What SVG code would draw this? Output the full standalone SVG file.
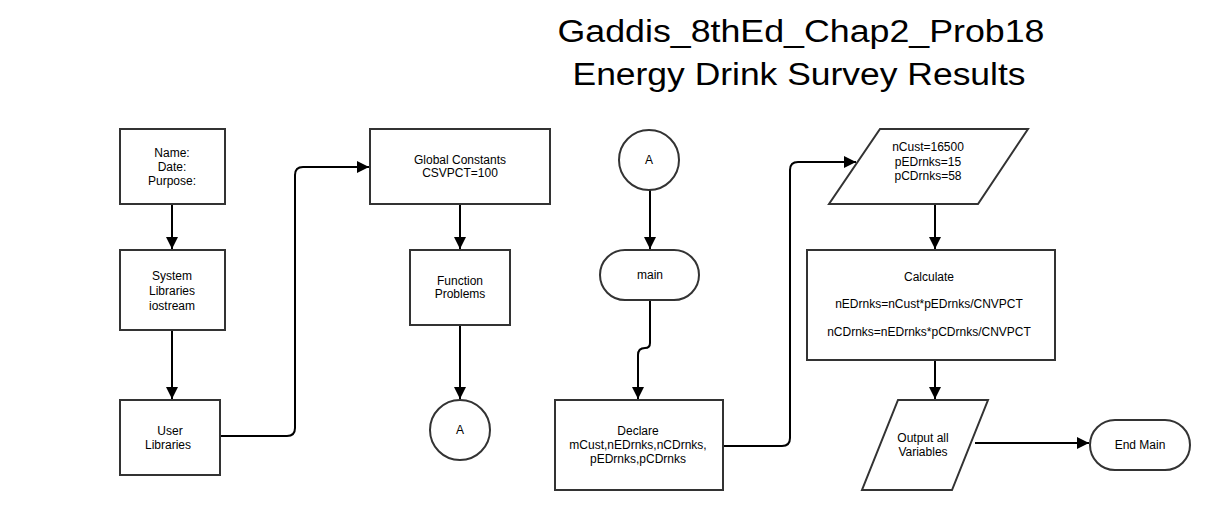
<svg xmlns="http://www.w3.org/2000/svg" width="1216" height="510" viewBox="0 0 1216 510">
<defs>
<marker id="ah" viewBox="0 0 12 12" refX="12" refY="6" markerWidth="12" markerHeight="12" markerUnits="userSpaceOnUse" orient="auto">
<path d="M0,0 L12,6 L0,12 Z" fill="#000"/>
</marker>
<style>
.s{fill:#fff;stroke:#333;stroke-width:2}
.t{font-family:"Liberation Sans",Arial,sans-serif;font-size:12px;fill:#000;text-anchor:middle}
.h{font-family:"Liberation Sans",Arial,sans-serif;font-size:31px;fill:#000;text-anchor:middle}
.c{fill:none;stroke:#000;stroke-width:2;marker-end:url(#ah)}
</style>
</defs>
<rect width="1216" height="510" fill="#fff"/>
<g id="title">
<text class="h" x="801" y="42" textLength="487" lengthAdjust="spacingAndGlyphs">Gaddis_8thEd_Chap2_Prob18</text>
<text class="h" x="799" y="85" textLength="453" lengthAdjust="spacingAndGlyphs">Energy Drink Survey Results</text>
</g>
<g id="connectors">
<path class="c" d="M172,204 V249"/>
<path class="c" d="M172,330 V399"/>
<path class="c" d="M220,436 H287 Q295,436 295,428 V175 Q295,167 303,167 H369"/>
<path class="c" d="M460,204 V249"/>
<path class="c" d="M460,325 V399"/>
<path class="c" d="M650,190 V249"/>
<path class="c" d="M650,300 V343 Q650,348 645,348 Q638,348 638,355 V399"/>
<path class="c" d="M723,446 H782 Q790,446 790,438 V170 Q790,162 798,162 H856"/>
<path class="c" d="M935,204 V249"/>
<path class="c" d="M935,360 V399"/>
<path class="c" d="M975,443 H1089"/>
</g>
<g id="n_header">
<rect class="s" x="120" y="129" width="105" height="75"/>
<text class="t" x="172" y="157">Name:</text>
<text class="t" x="172" y="171">Date:</text>
<text class="t" x="172" y="185">Purpose:</text>
</g>
<g id="n_syslib">
<rect class="s" x="120" y="250" width="105" height="80"/>
<text class="t" x="172" y="280">System</text>
<text class="t" x="172" y="295">Libraries</text>
<text class="t" x="172" y="310">iostream</text>
</g>
<g id="n_userlib">
<rect class="s" x="120" y="400" width="100" height="75"/>
<text class="t" x="170" y="435">User</text>
<text class="t" x="168" y="449">Libraries</text>
</g>
<g id="n_global">
<rect class="s" x="370" y="129" width="180" height="75"/>
<text class="t" x="460" y="164">Global Constants</text>
<text class="t" x="460" y="177">CSVPCT=100</text>
</g>
<g id="n_func">
<rect class="s" x="410" y="250" width="100" height="75"/>
<text class="t" x="460" y="285">Function</text>
<text class="t" x="460" y="298">Problems</text>
</g>
<g id="n_a1">
<circle class="s" cx="460" cy="430" r="30"/>
<text class="t" x="460" y="434">A</text>
</g>
<g id="n_a2">
<circle class="s" cx="649" cy="160" r="30"/>
<text class="t" x="649" y="164">A</text>
</g>
<g id="n_main">
<rect class="s" x="600" y="250" width="99" height="50" rx="25" ry="25"/>
<text class="t" x="650" y="279">main</text>
</g>
<g id="n_declare">
<rect class="s" x="555" y="400" width="168" height="90"/>
<text class="t" x="638" y="435">Declare</text>
<text class="t" x="638" y="449">mCust,nEDrnks,nCDrnks,</text>
<text class="t" x="638" y="463">pEDrnks,pCDrnks</text>
</g>
<g id="n_input">
<polygon class="s" points="880,129 1028,129 978,204 829,204"/>
<text class="t" x="928" y="151">nCust=16500</text>
<text class="t" x="928" y="166">pEDrnks=15</text>
<text class="t" x="928" y="180">pCDrnks=58</text>
</g>
<g id="n_calc">
<rect class="s" x="807" y="250" width="248" height="110"/>
<text class="t" x="929" y="281">Calculate</text>
<text class="t" x="929" y="308">nEDrnks=nCust*pEDrnks/CNVPCT</text>
<text class="t" x="929" y="336">nCDrnks=nEDrnks*pCDrnks/CNVPCT</text>
</g>
<g id="n_output">
<polygon class="s" points="898,400 988,400 952,490 862,490"/>
<text class="t" x="923" y="442">Output all</text>
<text class="t" x="923" y="456">Variables</text>
</g>
<g id="n_end">
<rect class="s" x="1090" y="420" width="100" height="50" rx="25" ry="25"/>
<text class="t" x="1140" y="449">End Main</text>
</g>
</svg>
